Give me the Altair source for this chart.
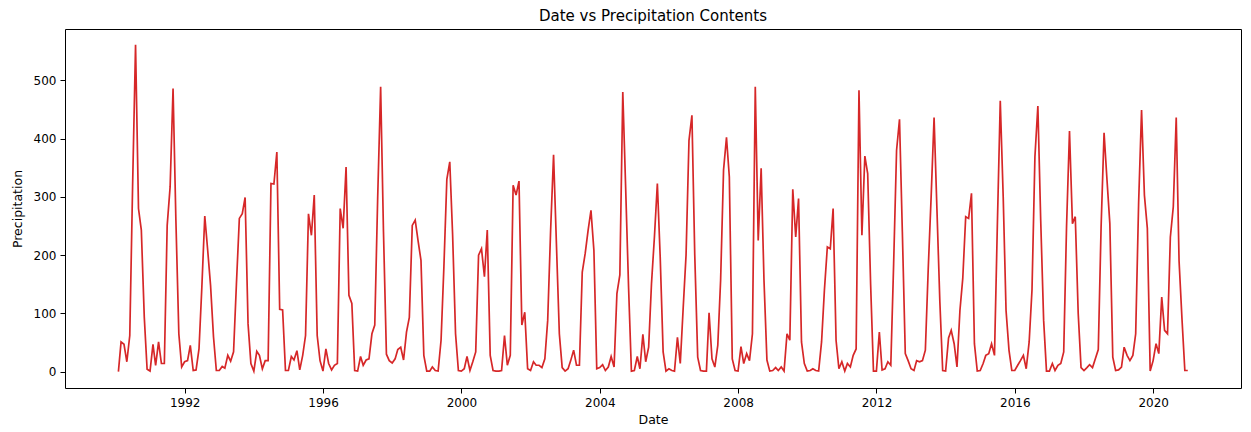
import altair as alt
import pandas as pd

# Monthly precipitation values (Jan..Dec each year)
y1990 = [0, 51, 47, 17, 62, 320, 561, 280, 243, 94, 4, 1]
y1991 = [47, 11, 51, 14, 14, 251, 317, 486, 260, 65, 8, 17]
y1992 = [19, 45, 2, 3, 39, 145, 267, 208, 148, 60, 2, 2]
y1993 = [9, 6, 28, 18, 34, 150, 263, 271, 299, 82, 14, 1]
y1994 = [35, 28, 5, 19, 19, 323, 322, 377, 107, 106, 2, 2]
y1995 = [26, 20, 36, 3, 28, 62, 271, 234, 303, 62, 19, 1]
y1996 = [39, 14, 3, 11, 14, 280, 246, 351, 131, 117, 2, 1]
y1997 = [26, 11, 20, 22, 65, 80, 300, 489, 240, 30, 19, 15]
y1998 = [22, 38, 42, 20, 68, 93, 251, 260, 225, 191, 28, 1]
y1999 = [1, 8, 2, 1, 54, 180, 330, 360, 235, 65, 2, 1]
y2000 = [5, 26, 2, 17, 34, 200, 211, 163, 243, 28, 2, 1]
y2001 = [1, 2, 62, 11, 28, 320, 303, 327, 80, 102, 5, 2]
y2002 = [17, 11, 11, 7, 22, 88, 243, 372, 220, 65, 7, 1]
y2003 = [5, 19, 37, 11, 11, 171, 203, 243, 277, 208, 5, 7]
y2004 = [12, 2, 8, 26, 8, 134, 166, 480, 317, 145, 1, 2]
y2005 = [26, 5, 64, 17, 42, 151, 231, 323, 197, 34, 1, 5]
y2006 = [2, 1, 59, 14, 110, 200, 397, 440, 200, 25, 2, 1]
y2007 = [1, 101, 22, 8, 45, 157, 346, 402, 334, 22, 2, 1]
y2008 = [43, 14, 31, 19, 65, 489, 225, 349, 157, 20, 1, 2]
y2009 = [7, 2, 8, 1, 65, 54, 313, 231, 297, 51, 14, 1]
y2010 = [2, 5, 2, 1, 51, 140, 214, 211, 280, 54, 5, 17]
y2011 = [1, 14, 8, 28, 39, 483, 234, 370, 340, 150, 1, 1]
y2012 = [68, 3, 5, 17, 11, 185, 380, 433, 240, 31, 19, 5]
y2013 = [2, 19, 17, 19, 37, 175, 300, 436, 280, 120, 2, 1]
y2014 = [58, 71, 48, 8, 105, 160, 266, 263, 306, 48, 1, 2]
y2015 = [14, 28, 31, 48, 28, 250, 465, 300, 105, 37, 2, 2]
y2016 = [11, 19, 28, 5, 51, 140, 369, 456, 260, 88, 1, 1]
y2017 = [14, 2, 11, 14, 34, 250, 413, 254, 266, 100, 7, 2]
y2018 = [7, 12, 7, 22, 38, 250, 410, 329, 254, 25, 2, 3]
y2019 = [8, 42, 28, 19, 28, 65, 290, 449, 303, 246, 1, 19]
y2020 = [48, 31, 128, 71, 65, 231, 283, 436, 190, 90, 2, 2]

years = list(range(1990, 2021))
yearly = [y1990, y1991, y1992, y1993, y1994, y1995, y1996, y1997, y1998, y1999,
          y2000, y2001, y2002, y2003, y2004, y2005, y2006, y2007, y2008, y2009,
          y2010, y2011, y2012, y2013, y2014, y2015, y2016, y2017, y2018, y2019, y2020]

tick_years = [1992, 1996, 2000, 2004, 2008, 2012, 2016, 2020]
y_ticks = [0, 100, 200, 300, 400, 500]

rows = []
for yr, vals in zip(years, yearly):
    for m, v in enumerate(vals, start=1):
        d = pd.Timestamp(year=yr, month=m, day=1) + pd.offsets.MonthEnd(0)
        rows.append({"Date": d.strftime("%Y-%m-%d"), "Precipitation": v})
df = pd.DataFrame(rows)

W, H = 1176, 359
LEFT, TOP = 65, 29

chart = alt.Chart(df).mark_line(color="#d62728", strokeWidth=1.7).encode(
    x=alt.X("Date:T",
            scale=alt.Scale(type="utc",
                            domain=[alt.DateTime(year=1988, month=7, date=16, utc=True),
                                    alt.DateTime(year=2022, month=7, date=16, utc=True)]),
            axis=alt.Axis(values=[alt.DateTime(year=y, month=1, date=1, utc=True) for y in tick_years],
                          format="%Y", title="Date")),
    y=alt.Y("Precipitation:Q",
            scale=alt.Scale(domain=[-28, 588], nice=False, zero=False),
            axis=alt.Axis(values=y_ticks, title="Precipitation")),
).properties(
    width=W, height=H,
    title=alt.TitleParams("Date vs Precipitation Contents", fontSize=15, font="DejaVu Sans",
                          fontWeight="normal", color="#000", offset=5),
    autosize=alt.AutoSizeParams(type="none"),
    padding={"left": LEFT, "top": TOP, "right": 1251 - LEFT - W, "bottom": 432 - TOP - H},
).configure_view(
    stroke="#000", strokeWidth=1
).configure_axis(
    grid=False, domain=False, ticks=True, tickSize=5, tickColor="#000", tickWidth=1,
    labelFont="DejaVu Sans", labelFontSize=12, labelColor="#000", labelPadding=4,
    titleFont="DejaVu Sans", titleFontSize=12.5, titleFontWeight="normal", titleColor="#000",
).configure_axisX(
    labelAngle=0, titlePadding=5, labelFlush=False, labelOverlap=False
).configure_axisY(
    titlePadding=9, labelOverlap=False
)

chart.save("out.html", embed_options={"renderer": "svg", "actions": False})
